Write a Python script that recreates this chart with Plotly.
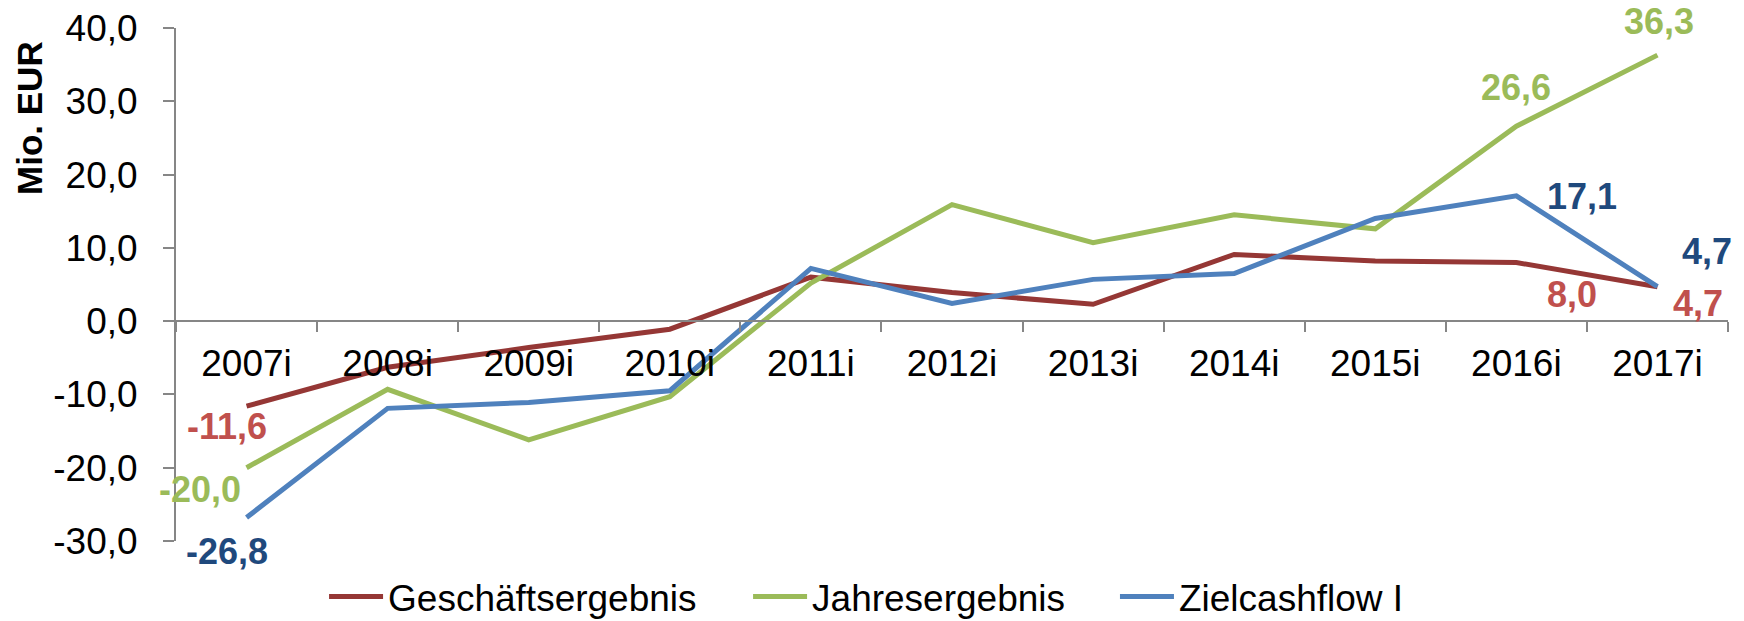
import plotly.graph_objects as go

categories = ["2007i", "2008i", "2009i", "2010i", "2011i", "2012i", "2013i", "2014i", "2015i", "2016i", "2017i"]
geschaeft = [-11.6, -6.3, -3.6, -1.1, 6.0, 3.9, 2.3, 9.1, 8.2, 8.0, 4.7]
jahres = [-20.0, -9.3, -16.2, -10.3, 5.2, 15.9, 10.7, 14.5, 12.6, 26.6, 36.3]
zielcf = [-26.8, -11.9, -11.1, -9.5, 7.2, 2.4, 5.7, 6.5, 14.0, 17.1, 4.7]
y_ticks = [-30, -20, -10, 0, 10, 20, 30, 40]

FONT = "Liberation Sans, Arial, sans-serif"

def fmt(v):
    return f"{v:.1f}".replace(".", ",")

series = [
    ("Geschäftsergebnis", geschaeft, "#953735", "#C0504D", "legend"),
    ("Jahresergebnis", jahres, "#9BBB59", "#9BBB59", "legend2"),
    ("Zielcashflow I", zielcf, "#4F81BD", "#1F497D", "legend3"),
]

fig = go.Figure()
for name, vals, lc, _, lg in series:
    fig.add_trace(go.Scatter(x=categories, y=vals, mode="lines", name=name,
                             line=dict(color=lc, width=5), legend=lg, showlegend=True))

# data labels: (series index, category index, xshift, yshift)
label_spec = [
    (0, 0, -20, -20), (1, 0, -47, -22), (2, 0, -20, -34),
    (1, 9, 0, 39), (1, 10, 2, 34),
    (2, 9, 66, -1), (2, 10, 50, 35),
    (0, 9, 56, -32), (0, 10, 41, -17),
]
for si, ci, xs, ys in label_spec:
    name, vals, lc, tc, _ = series[si]
    fig.add_annotation(x=categories[ci], y=vals[ci], text=f"<b>{fmt(vals[ci])}</b>",
                       showarrow=False, xshift=xs, yshift=ys,
                       font=dict(family=FONT, size=36, color=tc))

fig.add_annotation(xref="paper", yref="paper", x=-0.0941, y=0.8246,
                   text="<b>Mio. EUR</b>", textangle=-90, showarrow=False,
                   xanchor="center", yanchor="middle",
                   font=dict(family=FONT, size=35, color="black"))

leg_common = dict(y=-0.109, xanchor="left", yanchor="middle", orientation="h",
                  itemwidth=54, font=dict(family=FONT, size=37), bgcolor="rgba(0,0,0,0)")

fig.update_layout(
    width=1744, height=621,
    margin=dict(l=176, r=16, t=28, b=80, autoexpand=False),
    plot_bgcolor="white", paper_bgcolor="white",
    showlegend=True,
    font=dict(family=FONT, size=37, color="black"),
    xaxis=dict(type="category", range=[-0.5, 10.5], anchor="free", position=3/7,
               showline=True, linecolor="#868686", linewidth=2,
               ticks="outside", tickson="boundaries", ticklen=10, tickcolor="#868686", tickwidth=2,
               showgrid=False, zeroline=False, ticklabelstandoff=9,
               tickfont=dict(family=FONT, size=37)),
    yaxis=dict(range=[-30, 40], tickvals=y_ticks, ticktext=[fmt(v) for v in y_ticks],
               showline=True, linecolor="#868686", linewidth=2,
               ticks="outside", ticklen=11, tickcolor="#868686", tickwidth=2,
               showgrid=False, zeroline=False, ticklabelstandoff=18,
               ticklabeloverflow="allow",
               tickfont=dict(family=FONT, size=37)),
    legend=dict(x=0.0954, **leg_common),
    legend2=dict(x=0.3686, **leg_common),
    legend3=dict(x=0.605, **leg_common),
)

fig.write_html("out.html", config={"displayModeBar": False},
               post_script="document.body.style.margin='0';document.body.style.overflow='hidden';")
